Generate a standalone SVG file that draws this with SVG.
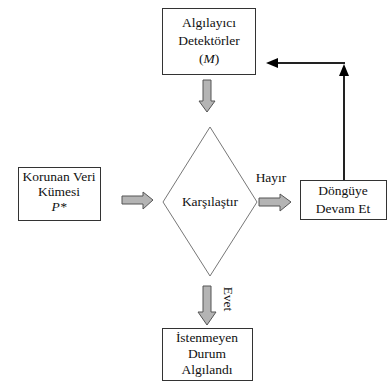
<svg xmlns="http://www.w3.org/2000/svg" width="387" height="392" viewBox="0 0 387 392">
<defs>
<style>
.box{fill:#fff;stroke:#333;stroke-width:1}
.t{font-family:'Liberation Serif','Times New Roman',serif;font-size:13.5px;fill:#111;text-anchor:middle}
.ga{fill:#b4b4b4;stroke:#555;stroke-width:1}
.ln{fill:none;stroke:#222;stroke-width:2}
.hd{fill:#000}
</style>
</defs>
<rect width="387" height="392" fill="#fff"/>
<g id="detektorler">
<rect class="box" x="162.5" y="8.5" width="93" height="66"/>
<text class="t" x="209" y="27">Algılayıcı</text>
<text class="t" x="209" y="45">Detektörler</text>
<text class="t" x="209" y="63">(<tspan font-style="italic">M</tspan>)</text>
</g>
<g id="korunan">
<rect class="box" x="18.5" y="167.5" width="82" height="53"/>
<text class="t" x="59" y="181">Korunan Veri</text>
<text class="t" x="59" y="196">Kümesi</text>
<text class="t" x="59" y="211" font-style="italic">P*</text>
</g>
<g id="karsilastir">
<polygon points="210,127 257,202 210,276 163,202" fill="#fff" stroke="#777" stroke-width="1"/>
<text class="t" x="210" y="206">Karşılaştır</text>
</g>
<g id="dongu">
<rect class="box" x="300.5" y="180.5" width="86" height="39"/>
<text class="t" x="343" y="195">Döngüye</text>
<text class="t" x="343" y="213">Devam Et</text>
</g>
<g id="istenmeyen">
<rect class="box" x="162.5" y="328.5" width="90" height="52"/>
<text class="t" x="207" y="342">İstenmeyen</text>
<text class="t" x="207" y="358">Durum</text>
<text class="t" x="207" y="374">Algılandı</text>
</g>
<g id="connectors">
<polygon class="ga" points="203,80 211,80 211,101 215,101 207,112 199,101 203,101"/>
<polygon class="ga" points="122,196 143,196 143,192 153,200 143,209 143,204 122,204"/>
<polygon class="ga" points="259,198 280,198 280,194 291,202 280,211 280,206 259,206"/>
<polygon class="ga" points="203,286 211,286 211,312 216,312 207,325 198,312 203,312"/>
<line class="ln" x1="344" y1="180" x2="344" y2="74"/>
<polygon class="hd" points="344,64 339,76 349,76"/>
<line class="ln" x1="345" y1="63" x2="276" y2="63"/>
<polygon class="hd" points="266,63 278,58 278,68"/>
<text class="t" x="271" y="182">Hayır</text>
<text class="t" transform="translate(224,299) rotate(90)">Evet</text>
</g>
</svg>
